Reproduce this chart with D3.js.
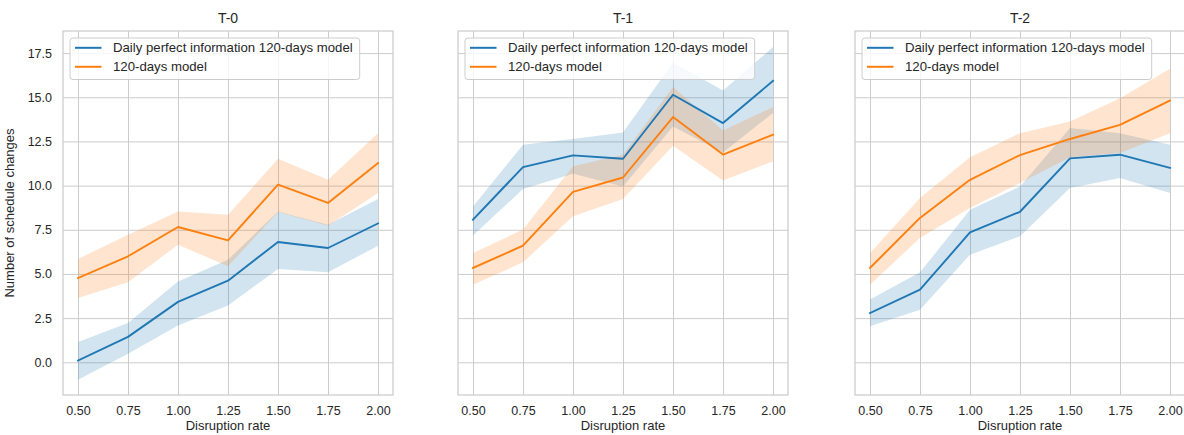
<!DOCTYPE html>
<html>
<head>
<meta charset="utf-8">
<script src="https://cdn.jsdelivr.net/npm/d3@7"></script>
<style>
  html, body { margin: 0; padding: 0; background: #ffffff; }
  svg { display: block; font-family: "Liberation Sans", Arial, sans-serif; }
</style>
</head>
<body>
<svg id="chart" width="1184" height="435"></svg>
<script>
// Disruption rates on the x axis
const rates = [0.50, 0.75, 1.00, 1.25, 1.50, 1.75, 2.00];

// Panel titles and legend labels
const panelTitles = ["T-0", "T-1", "T-2"];
const seriesNames = ["Daily perfect information 120-days model", "120-days model"];

// Tick values
const xTicks = [0.50, 0.75, 1.00, 1.25, 1.50, 1.75, 2.00];
const yTicks = [0.0, 2.5, 5.0, 7.5, 10.0, 12.5, 15.0, 17.5];

// T-0: mean and confidence band
const dailyMeanT0 = [0.10, 1.44, 3.42, 4.62, 6.81, 6.47, 7.86];
const dailyLowT0  = [-0.98, 0.49, 2.08, 3.22, 5.28, 5.09, 6.60];
const dailyHighT0 = [1.15, 2.23, 4.58, 5.81, 8.54, 7.79, 9.24];
const modelMeanT0 = [4.77, 6.00, 7.66, 6.90, 10.05, 9.02, 11.28];
const modelLowT0  = [3.64, 4.53, 6.66, 5.43, 8.50, 7.73, 9.58];
const modelHighT0 = [5.85, 7.22, 8.54, 8.35, 11.52, 10.33, 12.97];

// T-1
const dailyMeanT1 = [8.07, 11.05, 11.71, 11.52, 15.14, 13.54, 15.93];
const dailyLowT1  = [7.17, 9.81, 10.67, 9.95, 13.35, 11.88, 14.11];
const dailyHighT1 = [8.82, 12.31, 12.64, 13.01, 16.97, 15.38, 17.84];
const modelMeanT1 = [5.34, 6.60, 9.65, 10.46, 13.88, 11.76, 12.88];
const modelLowT1  = [4.39, 5.66, 8.26, 9.24, 12.26, 10.29, 11.37];
const modelHighT1 = [6.19, 7.51, 11.09, 11.74, 15.58, 13.12, 14.45];

// T-2
const dailyMeanT2 = [2.79, 4.11, 7.35, 8.52, 11.54, 11.75, 11.00];
const dailyLowT2  = [2.04, 2.98, 6.09, 7.13, 9.86, 10.43, 9.58];
const dailyHighT2 = [3.55, 5.09, 8.64, 9.95, 13.26, 12.97, 12.31];
const modelMeanT2 = [5.34, 8.17, 10.33, 11.73, 12.64, 13.44, 14.82];
const modelLowT2  = [4.39, 7.04, 8.73, 10.15, 11.60, 11.84, 12.97];
const modelHighT2 = [6.19, 9.30, 11.60, 12.97, 13.63, 14.95, 16.61];

const colors = ["#1f77b4", "#ff7f0e"];

const panels = [
  { title: panelTitles[0], series: [
      { mean: dailyMeanT0, low: dailyLowT0, high: dailyHighT0 },
      { mean: modelMeanT0, low: modelLowT0, high: modelHighT0 } ] },
  { title: panelTitles[1], series: [
      { mean: dailyMeanT1, low: dailyLowT1, high: dailyHighT1 },
      { mean: modelMeanT1, low: modelLowT1, high: modelHighT1 } ] },
  { title: panelTitles[2], series: [
      { mean: dailyMeanT2, low: dailyLowT2, high: dailyHighT2 },
      { mean: modelMeanT2, low: modelLowT2, high: modelHighT2 } ] }
];

const svg = d3.select("#chart");
const panelLefts = [63, 458, 855];
const panelWidth = 330;
const plotTop = 31, plotBottom = 395;
const textColor = "#262626";
const gridColor = "#cccccc";

const y = d3.scaleLinear().domain([-1.85, 18.75]).range([plotBottom, plotTop]);

panels.forEach((panel, pi) => {
  const left = panelLefts[pi];
  const x = d3.scaleLinear().domain([0.425, 2.075]).range([left, left + panelWidth]);
  const g = svg.append("g");

  // background
  g.append("rect")
    .attr("x", left).attr("y", plotTop)
    .attr("width", panelWidth).attr("height", plotBottom - plotTop)
    .attr("fill", "#ffffff");

  // x axis with grid
  const xAxis = g.append("g")
    .attr("transform", `translate(0,${plotBottom})`)
    .call(d3.axisBottom(x).tickValues(xTicks).tickFormat(d3.format(".2f"))
      .tickSizeInner(-(plotBottom - plotTop)).tickSizeOuter(0).tickPadding(11));
  xAxis.select(".domain").remove();
  xAxis.selectAll(".tick line").attr("stroke", gridColor).attr("stroke-width", 1);
  xAxis.selectAll(".tick text").attr("fill", textColor).style("font-size", "12.5px");

  // y axis with grid
  const yAxis = g.append("g")
    .attr("transform", `translate(${left},0)`)
    .call(d3.axisLeft(y).tickValues(yTicks).tickFormat(d3.format(".1f"))
      .tickSizeInner(-panelWidth).tickSizeOuter(0).tickPadding(11));
  yAxis.select(".domain").remove();
  yAxis.selectAll(".tick line").attr("stroke", gridColor).attr("stroke-width", 1);
  yAxis.selectAll(".tick text").attr("fill", textColor).style("font-size", "12.5px");
  if (pi > 0) yAxis.selectAll(".tick text").remove();

  // frame
  g.append("rect")
    .attr("x", left).attr("y", plotTop)
    .attr("width", panelWidth).attr("height", plotBottom - plotTop)
    .attr("fill", "none").attr("stroke", gridColor).attr("stroke-width", 1.25);

  // confidence bands
  panel.series.forEach((s, si) => {
    const area = d3.area()
      .x((d, i) => x(rates[i]))
      .y0((d, i) => y(s.low[i]))
      .y1((d, i) => y(s.high[i]));
    g.append("path")
      .datum(s.mean)
      .attr("d", area)
      .attr("fill", colors[si])
      .attr("fill-opacity", 0.2);
  });

  // mean lines
  panel.series.forEach((s, si) => {
    const line = d3.line().x((d, i) => x(rates[i])).y(d => y(d));
    g.append("path")
      .datum(s.mean)
      .attr("d", line)
      .attr("fill", "none")
      .attr("stroke", colors[si])
      .attr("stroke-width", 1.9)
      .attr("stroke-linejoin", "round")
      .attr("stroke-linecap", "square");
  });

  // title
  g.append("text")
    .attr("x", left + panelWidth / 2).attr("y", 22.5)
    .attr("text-anchor", "middle")
    .attr("fill", textColor)
    .style("font-size", "14px")
    .text(panel.title);

  // x axis label
  g.append("text")
    .attr("x", left + panelWidth / 2).attr("y", 430)
    .attr("text-anchor", "middle")
    .attr("fill", textColor)
    .style("font-size", "13px")
    .text("Disruption rate");

  // legend
  const lg = g.append("g").attr("transform", `translate(${left + 7},${plotTop + 7})`);
  const box = lg.append("rect")
    .attr("x", 0).attr("y", 0).attr("height", 41.5)
    .attr("rx", 3).attr("ry", 3)
    .attr("fill", "#ffffff").attr("fill-opacity", 0.8)
    .attr("stroke", gridColor).attr("stroke-width", 1);
  let maxW = 0;
  seriesNames.forEach((name, si) => {
    const cy = 9.8 + si * 19;
    lg.append("line")
      .attr("x1", 5).attr("x2", 31.5)
      .attr("y1", cy).attr("y2", cy)
      .attr("stroke", colors[si]).attr("stroke-width", 2);
    const t = lg.append("text")
      .attr("x", 43).attr("y", cy)
      .attr("dy", "0.35em")
      .attr("fill", textColor)
      .style("font-size", "13.2px")
      .text(name);
    maxW = Math.max(maxW, t.node().getComputedTextLength());
  });
  box.attr("width", 43 + maxW + 7);
});

// shared y axis label
svg.append("text")
  .attr("transform", `translate(14,${(plotTop + plotBottom) / 2}) rotate(-90)`)
  .attr("text-anchor", "middle")
  .attr("fill", textColor)
  .style("font-size", "13px")
  .text("Number of schedule changes");
</script>
</body>
</html>
